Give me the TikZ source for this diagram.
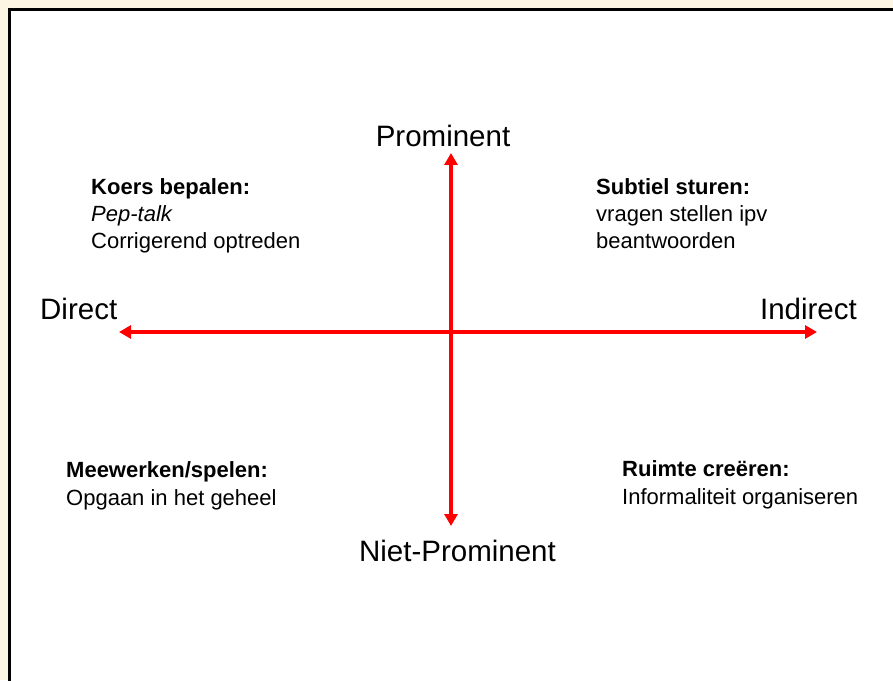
\documentclass[tikz,border=0pt]{standalone}
\usepackage{fontspec}
\setmainfont{Liberation Sans}
\usetikzlibrary{arrows.meta}
\definecolor{cream}{RGB}{252,245,228}
\begin{document}
\begin{tikzpicture}[x=1pt,y=1pt,
  axis/.style={draw=red,line width=4pt,{Triangle[length=12pt,width=13pt]}-{Triangle[length=12pt,width=13pt]}},
  axlabel/.style={inner sep=0pt,anchor=base,font=\fontsize{29.5}{34}\selectfont},
  quad/.style={inner sep=0pt,anchor=base west,align=left,font=\fontsize{22}{27}\selectfont}]
\useasboundingbox (0,0) rectangle (893,680);
\fill[cream] (0,0) rectangle (893,680);
\begin{scope}
\clip (0,0) rectangle (893,680);
\draw[line width=3pt,fill=white] (9.5,670.5) rectangle (905,-10);
\end{scope}
\coordinate (T) at (451,527);
\coordinate (B) at (451,154);
\coordinate (L) at (119,348);
\coordinate (R) at (817,348);
\draw[axis] (B) -- (T);
\draw[axis] (L) -- (R);
\node[axlabel] (prom) at (443,533) {Prominent};
\node[axlabel] (niet) at (457.5,119) {Niet-Prominent};
\node[axlabel,anchor=base west] (dir) at (40,360) {Direct};
\node[axlabel,anchor=base east] (ind) at (857,360) {Indirect};
\node[quad] (q1) at (91,431) {\textbf{Koers bepalen:}\\\textit{Pep-talk}\\Corrigerend optreden};
\node[quad] (q2) at (596,431) {\textbf{Subtiel sturen:}\\vragen stellen ipv\\beantwoorden};
\node[quad] (q3) at (66,175) {\textbf{Meewerken/spelen:}\\Opgaan in het geheel};
\node[quad] (q4) at (622,176) {\textbf{Ruimte creëren:}\\Informaliteit organiseren};
\end{tikzpicture}
\end{document}
